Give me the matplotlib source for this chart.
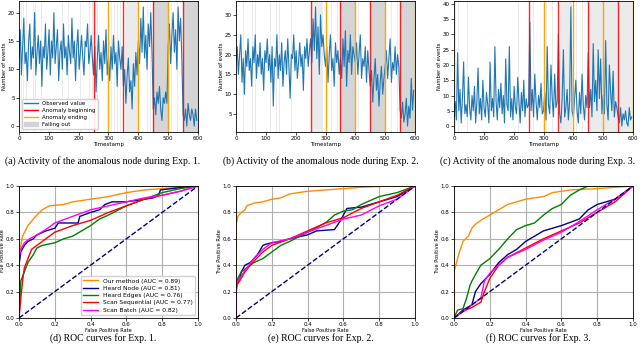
import numpy as np
import matplotlib.pyplot as plt
from matplotlib.patches import Patch
from matplotlib.lines import Line2D

# anomaly timestamps
beginnings = [250, 350, 450, 550]
endings = [300, 400, 500, 600]
seg_edges = [0, 250, 300, 350, 400, 450, 500, 550, 600]

# ---- Exp. 1 observed values, one list per segment ----
e1_s0 = [12, 17, 9, 14, 19, 11, 13, 8, 15, 18, 10, 14, 12, 20, 9, 13, 16, 11, 15, 7,
         14, 12, 18, 10, 13, 17, 9, 15, 12, 20, 11, 14, 17, 8, 13, 15, 10, 18, 12, 14,
         9, 16, 13, 11, 19, 12, 15, 8, 14, 17, 10, 13, 16, 12, 9, 15, 14, 18, 11, 13, 16, 12]
e1_s1 = [9, 14, 6, 12, 16, 10, 13, 8, 15, 11, 17, 9]
e1_s2 = [12, 8, 14, 10, 16, 11, 13, 7, 15, 12, 10, 14]
e1_s3 = [7, 10, 4, 9, 12, 6, 8, 3, 11, 7, 13, 9]
e1_s4 = [15, 11, 19, 13, 21, 12, 16, 10, 18, 14, 20, 13]
e1_s5 = [3, 5, 2, 6, 4, 7, 3, 1, 5, 4, 6, 4]
e1_s6 = [14, 18, 11, 16, 20, 13, 17, 10, 21, 15, 19, 12]
e1_s7 = [2, 1, 3, 0, 4, 2, 1, 3, 2, 0, 3, 1]

# ---- Exp. 2 ----
e2_s0 = [18, 22, 15, 20, 25, 13, 19, 10, 21, 17, 24, 16, 19, 12, 22, 18, 25, 14, 20, 17,
         23, 15, 19, 11, 21, 18, 24, 16, 20, 13, 22, 7, 19, 17, 25, 14, 20, 16, 23, 12,
         18, 21, 15, 24, 17, 9, 20, 19, 25, 16, 21, 14, 18, 23, 17, 20, 11, 22, 19, 24, 17, 21]
e2_s1 = [24, 18, 29, 21, 32, 19, 27, 15, 30, 22, 25, 20]
e2_s2 = [17, 22, 13, 20, 25, 16, 19, 12, 23, 18, 21, 15]
e2_s3 = [19, 14, 24, 17, 26, 12, 21, 18, 25, 15, 22, 20]
e2_s4 = [18, 23, 15, 20, 25, 14, 19, 17, 22, 13, 21, 16]
e2_s5 = [12, 16, 8, 14, 19, 11, 15, 7, 13, 17, 10, 14]
e2_s6 = [17, 21, 14, 19, 24, 13, 18, 16, 22, 15, 20, 17]
e2_s7 = [6, 4, 8, 3, 5, 9, 2, 7, 4, 14, 6, 11]

# ---- Exp. 3 ----
e3_s0 = [3, 8, 2, 24, 5, 12, 1, 9, 21, 4, 7, 3, 16, 6, 2, 10, 5, 13, 1, 8,
         19, 4, 9, 2, 15, 6, 3, 11, 7, 1, 21, 5, 9, 3, 26, 8, 2, 12, 6, 14,
         4, 10, 1, 22, 7, 5, 26, 3, 9, 2, 13, 6, 4, 16, 8, 1, 11, 5, 15, 3, 9, 6]
e3_s1 = [7, 34, 5, 12, 3, 17, 8, 2, 10, 6, 14, 4]
e3_s2 = [5, 11, 2, 26, 7, 4, 20, 9, 3, 17, 6, 8]
e3_s3 = [30, 4, 1, 9, 25, 3, 6, 12, 2, 8, 39, 5]
e3_s4 = [3, 9, 15, 5, 1, 11, 4, 17, 7, 2, 10, 6]
e3_s5 = [24, 6, 12, 3, 27, 8, 15, 5, 25, 9, 22, 4]
e3_s6 = [10, 4, 28, 7, 2, 20, 11, 5, 18, 3, 8, 6]
e3_s7 = [3, 1, 6, 0, 4, 2, 5, 1, 0, 6, 2, 3]

# falling-out timestamps (thin lines) and intervals (light / dark)
e1_out_lines = [8, 15, 20, 25, 30, 40, 48, 55, 70, 75, 90, 100, 145, 150, 165, 190, 205, 235, 245,
                255, 262, 270, 285, 290, 310, 320, 330, 340, 415, 430, 440, 510, 530]
e1_out_light = [(355, 400)]
e1_out_dark = [(450, 500), (550, 600)]
e2_out_lines = [10, 25, 40, 55, 65, 80, 100, 115, 135, 145, 170, 185, 200, 210,
                320, 340, 410, 425, 520, 540]
e2_out_light = [(255, 290)]
e2_out_dark = [(350, 400), (450, 500), (550, 600)]
e3_out_lines = [5, 15, 30, 45, 60, 70, 80, 120, 130, 150, 180, 200, 215, 220,
                265, 275, 285, 290, 310, 330, 410, 430]
e3_out_light = [(355, 395), (450, 500), (500, 550), (550, 600)]
e3_out_dark = []

yticks_top = [[0, 5, 10, 15, 20], [5, 10, 15, 20, 25, 30], [0, 5, 10, 15, 20, 25, 30, 35, 40]]

# ---- ROC curves (fpr, tpr) ----
methods = ["Our method", "Heard Node", "Heard Edges", "Scan Sequential", "Scan Batch"]
colors = ["darkorange", "darkblue", "green", "red", "magenta"]
auc1 = [0.89, 0.81, 0.76, 0.77, 0.82]

roc1 = [
    ([0, 0, 0.01, 0.02, 0.05, 0.08, 0.1, 0.13, 0.17, 0.25, 0.3, 0.4, 0.5, 0.6, 0.7, 0.8, 0.9, 1],
     [0, 0.42, 0.55, 0.62, 0.7, 0.75, 0.78, 0.82, 0.85, 0.86, 0.88, 0.9, 0.92, 0.95, 0.97, 0.98, 0.99, 1]),
    ([0, 0, 0.01, 0.03, 0.05, 0.08, 0.1, 0.15, 0.2, 0.22, 0.33, 0.34, 0.4, 0.45, 0.48, 0.52, 0.6, 0.75, 0.78, 0.79, 0.85, 1],
     [0, 0.4, 0.5, 0.55, 0.58, 0.6, 0.63, 0.66, 0.68, 0.72, 0.72, 0.77, 0.8, 0.82, 0.86, 0.88, 0.88, 0.91, 0.93, 0.97, 0.98, 1]),
    ([0, 0.01, 0.03, 0.05, 0.08, 0.1, 0.13, 0.2, 0.25, 0.3, 0.35, 0.4, 0.45, 0.5, 0.6, 0.7, 0.8, 0.9, 1],
     [0, 0.28, 0.35, 0.42, 0.48, 0.53, 0.55, 0.57, 0.6, 0.62, 0.66, 0.7, 0.75, 0.78, 0.85, 0.9, 0.95, 0.98, 1]),
    ([0, 0.01, 0.02, 0.03, 0.05, 0.07, 0.1, 0.15, 0.2, 0.3, 0.4, 0.5, 0.6, 0.7, 0.8, 0.9, 1],
     [0, 0.15, 0.28, 0.38, 0.45, 0.52, 0.55, 0.6, 0.65, 0.7, 0.74, 0.8, 0.85, 0.9, 0.93, 0.96, 1]),
    ([0, 0, 0.01, 0.03, 0.06, 0.1, 0.15, 0.2, 0.3, 0.4, 0.5, 0.6, 0.7, 0.8, 0.9, 1],
     [0, 0.45, 0.52, 0.57, 0.6, 0.63, 0.67, 0.72, 0.77, 0.82, 0.85, 0.88, 0.91, 0.93, 0.96, 1]),
]
roc2 = [
    ([0, 0, 0.01, 0.03, 0.05, 0.06, 0.1, 0.15, 0.2, 0.25, 0.3, 0.4, 0.5, 0.6, 0.7, 0.85, 1],
     [0, 0.7, 0.77, 0.8, 0.82, 0.85, 0.87, 0.88, 0.9, 0.91, 0.94, 0.96, 0.97, 0.98, 0.99, 1, 1]),
    ([0, 0, 0.02, 0.03, 0.05, 0.08, 0.1, 0.12, 0.15, 0.17, 0.2, 0.25, 0.3, 0.4, 0.45, 0.55, 0.58, 0.62, 0.7, 0.8, 0.9, 1],
     [0, 0.25, 0.3, 0.35, 0.4, 0.42, 0.45, 0.48, 0.55, 0.56, 0.57, 0.58, 0.6, 0.63, 0.66, 0.67, 0.73, 0.83, 0.84, 0.88, 0.92, 1]),
    ([0, 0, 0.01, 0.03, 0.05, 0.1, 0.15, 0.2, 0.25, 0.3, 0.4, 0.5, 0.55, 0.6, 0.65, 0.7, 0.8, 0.9, 1],
     [0, 0.18, 0.3, 0.35, 0.37, 0.42, 0.45, 0.5, 0.55, 0.58, 0.65, 0.72, 0.78, 0.81, 0.82, 0.86, 0.92, 0.95, 1]),
    ([0, 0, 0.02, 0.05, 0.08, 0.1, 0.15, 0.2, 0.3, 0.4, 0.5, 0.6, 0.7, 0.8, 0.9, 1],
     [0, 0.24, 0.28, 0.35, 0.4, 0.43, 0.5, 0.55, 0.6, 0.66, 0.72, 0.76, 0.83, 0.88, 0.93, 1]),
    ([0, 0, 0.02, 0.05, 0.1, 0.15, 0.2, 0.3, 0.4, 0.5, 0.6, 0.7, 0.8, 0.9, 1],
     [0, 0.26, 0.3, 0.36, 0.45, 0.52, 0.57, 0.6, 0.65, 0.7, 0.75, 0.78, 0.85, 0.9, 1]),
]
roc3 = [
    ([0, 0, 0.01, 0.03, 0.05, 0.08, 0.1, 0.12, 0.15, 0.2, 0.25, 0.3, 0.35, 0.4, 0.5, 0.55, 0.65, 0.8, 0.9, 1],
     [0, 0.35, 0.4, 0.5, 0.58, 0.62, 0.68, 0.71, 0.74, 0.78, 0.82, 0.86, 0.88, 0.9, 0.92, 0.95, 0.97, 0.98, 0.99, 1]),
    ([0, 0.05, 0.1, 0.12, 0.15, 0.2, 0.25, 0.3, 0.35, 0.4, 0.5, 0.6, 0.7, 0.75, 0.8, 0.9, 1],
     [0, 0.06, 0.1, 0.2, 0.26, 0.33, 0.42, 0.48, 0.52, 0.58, 0.66, 0.7, 0.75, 0.82, 0.86, 0.9, 1]),
    ([0, 0.02, 0.05, 0.07, 0.09, 0.1, 0.12, 0.15, 0.2, 0.25, 0.3, 0.35, 0.4, 0.45, 0.5, 0.55, 0.6, 0.65, 0.7, 0.75, 1],
     [0, 0.06, 0.07, 0.15, 0.25, 0.28, 0.33, 0.4, 0.45, 0.52, 0.6, 0.67, 0.7, 0.72, 0.78, 0.83, 0.86, 0.93, 0.97, 1, 1]),
    ([0, 0.05, 0.1, 0.15, 0.17, 0.2, 0.25, 0.3, 0.4, 0.5, 0.6, 0.7, 0.8, 0.9, 1],
     [0, 0.05, 0.08, 0.12, 0.2, 0.3, 0.4, 0.46, 0.53, 0.6, 0.66, 0.72, 0.8, 0.88, 1]),
    ([0, 0.05, 0.1, 0.15, 0.17, 0.2, 0.25, 0.3, 0.4, 0.5, 0.6, 0.7, 0.8, 0.9, 1],
     [0, 0.05, 0.1, 0.15, 0.28, 0.34, 0.4, 0.46, 0.52, 0.59, 0.65, 0.73, 0.82, 0.9, 1]),
]

captions_top = ["(a) Activity of the anomalous node during Exp. 1.",
                "(b) Activity of the anomalous node during Exp. 2.",
                "(c) Activity of the anomalous node during Exp. 3."]
captions_bot = ["(d) ROC curves for Exp. 1.",
                "(e) ROC curves for Exp. 2.",
                "(f) ROC curves for Exp. 3."]

plt.rcParams['axes.linewidth'] = 0.6
plt.rcParams['xtick.major.width'] = 0.5
plt.rcParams['ytick.major.width'] = 0.5
plt.rcParams['xtick.major.size'] = 2
plt.rcParams['ytick.major.size'] = 2
plt.rcParams['xtick.major.pad'] = 1.2
plt.rcParams['ytick.major.pad'] = 1.2

fig = plt.figure(figsize=(6.4, 3.46), dpi=100)
lefts = [19 / 640, 236 / 640, 454 / 640]
w = 179 / 640
cap_x = [103 / 640, 321 / 640, 538 / 640]
H = 346


def draw_activity(ax, segs, out_lines, out_light, out_dark, legend):
    for t in out_lines:
        ax.axvspan(t, t + 1.5, color='lightgray', alpha=0.45, lw=0)
    for a, b in out_light:
        ax.axvspan(a, b, color='lightgray', alpha=0.45, lw=0)
    for a, b in out_dark:
        ax.axvspan(a, b, color='lightgray', alpha=0.95, lw=0)
    xs, ys = [], []
    for i, vals in enumerate(segs):
        xs.extend(np.linspace(seg_edges[i], seg_edges[i + 1], len(vals), endpoint=False))
        ys.extend(vals)
    ax.plot(xs, ys, color='#1f77b4', lw=0.8)
    for t in beginnings:
        ax.axvline(t, color='red', lw=1.0, alpha=0.85)
    for t in endings:
        ax.axvline(t, color='orange', lw=1.0)
    ax.set_xlim(0, 600)
    ax.set_xticks([0, 100, 200, 300, 400, 500, 600])
    ax.tick_params(labelsize=4)
    ax.set_xlabel("Timestamp", fontsize=4, labelpad=0.5)
    ax.set_ylabel("Number of events", fontsize=3.8, labelpad=0.5)
    if legend:
        handles = [Line2D([], [], color='#1f77b4', lw=1),
                   Line2D([], [], color='red', lw=1),
                   Line2D([], [], color='orange', lw=1),
                   Patch(color='lightgray')]
        ax.legend(handles, ["Observed value", "Anomaly beginning", "Anomaly ending", "Falling out"],
                  loc='lower left', fontsize=4, framealpha=0.9, handlelength=2.5,
                  borderpad=0.4, labelspacing=0.35)


exps = [
    ([e1_s0, e1_s1, e1_s2, e1_s3, e1_s4, e1_s5, e1_s6, e1_s7], e1_out_lines, e1_out_light, e1_out_dark),
    ([e2_s0, e2_s1, e2_s2, e2_s3, e2_s4, e2_s5, e2_s6, e2_s7], e2_out_lines, e2_out_light, e2_out_dark),
    ([e3_s0, e3_s1, e3_s2, e3_s3, e3_s4, e3_s5, e3_s6, e3_s7], e3_out_lines, e3_out_light, e3_out_dark),
]

for k in range(3):
    ax = fig.add_axes([lefts[k], 1 - 132 / H, w, 131 / H])
    segs, ol, oli, od = exps[k]
    draw_activity(ax, segs, ol, oli, od, k == 0)
    ax.set_yticks(yticks_top[k])
    fig.text(cap_x[k], 1 - 161 / H, captions_top[k], ha='center', va='center',
             fontsize=7, family='Liberation Serif')

rocs = [roc1, roc2, roc3]
for k in range(3):
    ax = fig.add_axes([lefts[k], 1 - 318 / H, w, 132 / H])
    ax.grid(True, color='#b0b0b0', lw=0.8)
    ax.set_axisbelow(True)
    for (fpr, tpr), c, m, a in zip(rocs[k], colors, methods, auc1):
        ax.plot(fpr, tpr, color=c, lw=1.0, label="%s (AUC = %.2f)" % (m, a))
    ax.plot([0, 1], [0, 1], color='navy', lw=1.0, ls='--')
    ax.set_xlim(0, 1)
    ax.set_ylim(0, 1)
    ax.tick_params(labelsize=4)
    ax.set_xlabel("False Positive Rate", fontsize=3.6, labelpad=0.5)
    ax.set_ylabel("True Positive Rate", fontsize=3.6, labelpad=0.5)
    if k == 0:
        ax.legend(loc='lower right', fontsize=4.3, framealpha=0.9, handlelength=2.5,
                  borderpad=0.4, labelspacing=0.35)
    fig.text(cap_x[k], 1 - 338 / H, captions_bot[k], ha='center', va='center',
             fontsize=7, family='Liberation Serif')

fig.savefig("out.png", dpi=100)
